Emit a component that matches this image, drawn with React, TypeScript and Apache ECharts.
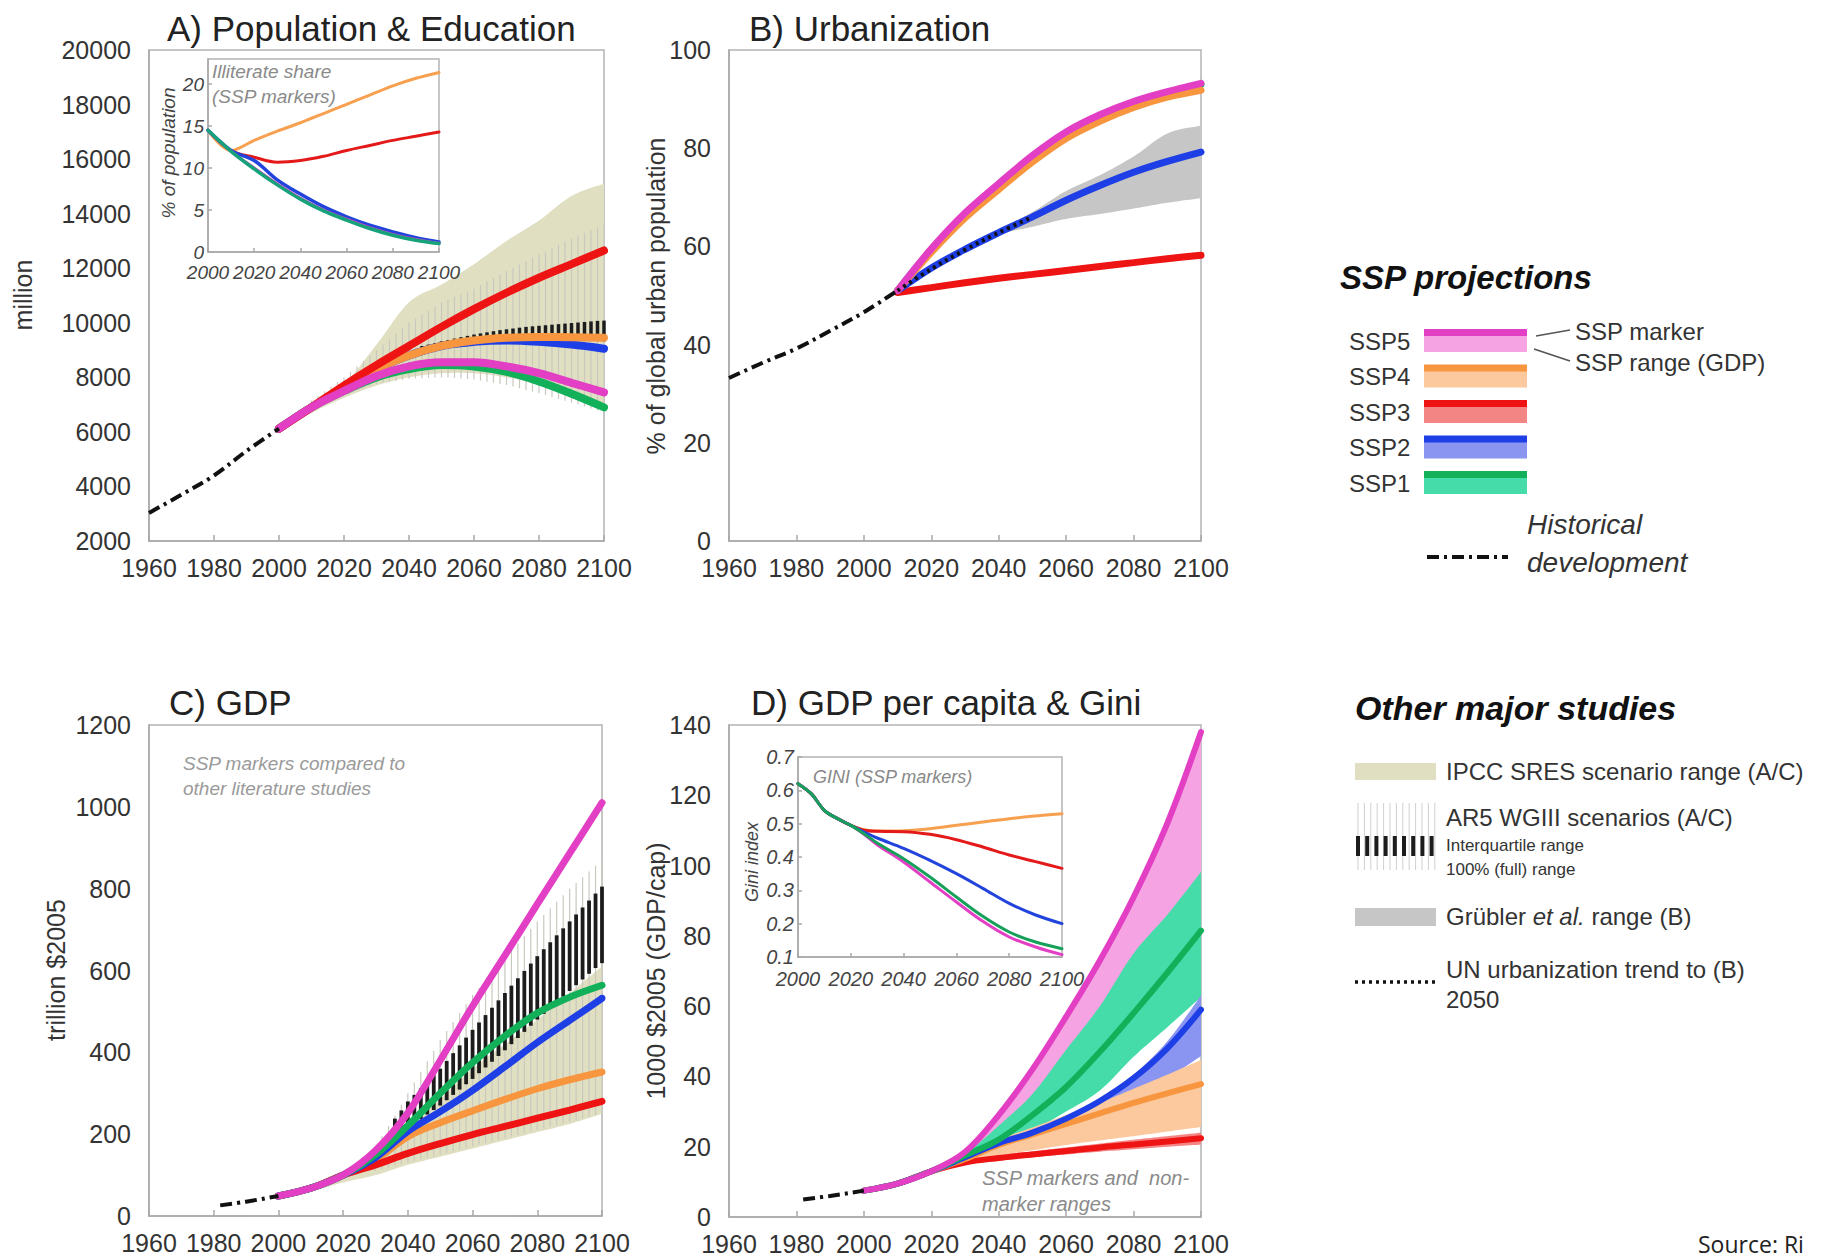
import React, { useEffect, useRef } from "react";
import * as echarts from "echarts";

const FONT = "'Liberation Sans', Arial, sans-serif";

// ---------- colours ----------
const C_SSP5 = "#e23fc4";
const C_SSP4 = "#f7963f";
const C_SSP3 = "#ee1414";
const C_SSP2 = "#1f3fe6";
const C_SSP1 = "#13b05a";
const R_SSP5 = "#f5a3e2";
const R_SSP4 = "#fcc89e";
const R_SSP3 = "#f48585";
const R_SSP2 = "#8a95f2";
const R_SSP1 = "#45dcaa";
const C_SRES = "#e0dfc2";
const C_GRUB = "#c6c6c6";
const C_AR5_FULL = "#c9c9bf";
const C_AR5_IQR = "#1c1c1c";

// ---------- Panel A: population (million) ----------
const HIST_POP_YEARS = [1960, 1970, 1980, 1990, 2000];
const HIST_POP = [3030, 3700, 4400, 5300, 6120];
const POP_YEARS = [2000, 2010, 2020, 2030, 2040, 2050, 2060, 2070, 2080, 2090, 2100];
const POP_SSP1 = [6120, 6900, 7500, 8000, 8300, 8450, 8400, 8200, 7850, 7400, 6900];
const POP_SSP2 = [6120, 6900, 7600, 8300, 8800, 9150, 9300, 9350, 9300, 9200, 9050];
const POP_SSP3 = [6120, 6900, 7700, 8450, 9150, 9850, 10500, 11100, 11650, 12150, 12650];
const POP_SSP4 = [6120, 6900, 7600, 8300, 8800, 9150, 9350, 9450, 9480, 9470, 9450];
const POP_SSP5 = [6120, 6900, 7500, 8050, 8400, 8550, 8550, 8400, 8150, 7800, 7450];
const POP_SRES_LO = [6100, 6700, 7250, 7700, 8000, 8150, 8150, 8000, 7750, 7400, 7000];
const POP_SRES_HI = [6200, 7000, 7750, 9200, 10750, 11400, 12150, 13000, 13750, 14650, 15100];
const AR5_POP_FULL_YEARS = [2004, 2006, 2008, 2010, 2012, 2014, 2016, 2018, 2020, 2022, 2024, 2026, 2028, 2030, 2032, 2034, 2036, 2038, 2040, 2042, 2044, 2046, 2048, 2050, 2052, 2054, 2056, 2058, 2060, 2062, 2064, 2066, 2068, 2070, 2072, 2074, 2076, 2078, 2080, 2082, 2084, 2086, 2088, 2090, 2092, 2094, 2096, 2098, 2100];
const AR5_POP_FULL_HI = [6550, 6750, 6950, 7150, 7320, 7490, 7660, 7830, 8000, 8200, 8400, 8600, 8800, 9000, 9200, 9400, 9600, 9800, 10000, 10150, 10300, 10450, 10600, 10750, 10850, 10950, 11050, 11150, 11250, 11380, 11510, 11640, 11770, 11900, 12020, 12140, 12260, 12380, 12500, 12620, 12740, 12860, 12980, 13100, 13200, 13300, 13400, 13500, 13600];
const AR5_POP_FULL_LO = [6350, 6500, 6650, 6800, 6920, 7040, 7160, 7280, 7400, 7470, 7540, 7610, 7680, 7750, 7790, 7830, 7870, 7910, 7950, 7960, 7970, 7980, 7990, 8000, 7990, 7980, 7960, 7940, 7920, 7880, 7840, 7800, 7760, 7720, 7660, 7600, 7540, 7480, 7420, 7350, 7280, 7210, 7140, 7070, 7000, 6930, 6860, 6790, 6720];
const AR5_POP_IQR_YEARS = [2044, 2046, 2048, 2050, 2052, 2054, 2056, 2058, 2060, 2062, 2064, 2066, 2068, 2070, 2072, 2074, 2076, 2078, 2080, 2082, 2084, 2086, 2088, 2090, 2092, 2094, 2096, 2098, 2100];
const AR5_POP_IQR_HI = [9150, 9200, 9260, 9320, 9370, 9420, 9470, 9520, 9570, 9610, 9650, 9690, 9730, 9760, 9790, 9820, 9850, 9870, 9890, 9910, 9930, 9950, 9970, 9990, 10010, 10030, 10050, 10070, 10080];
const AR5_POP_IQR_LO = [9050, 9090, 9140, 9180, 9220, 9260, 9300, 9330, 9360, 9380, 9400, 9410, 9420, 9430, 9430, 9430, 9430, 9420, 9420, 9410, 9400, 9390, 9380, 9370, 9360, 9350, 9340, 9330, 9320];

// ---------- Inset A: illiterate share (%) ----------
const ILL_YEARS = [2000, 2010, 2020, 2030, 2040, 2050, 2060, 2070, 2080, 2090, 2100];
const ILL_SSP4 = [14.5, 12.1, 13.3, 14.4, 15.4, 16.5, 17.6, 18.7, 19.8, 20.7, 21.4];
const ILL_SSP3 = [14.5, 12.1, 11.3, 10.7, 10.9, 11.4, 12.1, 12.7, 13.3, 13.8, 14.3];
const ILL_SSP2 = [14.5, 12.1, 10.9, 8.6, 6.9, 5.4, 4.2, 3.2, 2.4, 1.7, 1.2];
const ILL_SSP5 = [14.5, 12.0, 10.0, 8.1, 6.4, 5.0, 3.9, 2.9, 2.1, 1.5, 1.05];
const ILL_SSP1 = [14.5, 12.0, 9.9, 8.0, 6.3, 4.9, 3.8, 2.8, 2.0, 1.4, 1.0];

// ---------- Panel B: urbanization (%) ----------
const HIST_URB_YEARS = [1960, 1970, 1980, 1990, 2000, 2010];
const HIST_URB = [33.2, 36.3, 39.2, 42.8, 46.6, 51.0];
const URB_YEARS = [2010, 2020, 2030, 2040, 2050, 2060, 2070, 2080, 2090, 2100];
const URB_SSP5 = [51, 59.5, 66.8, 72.8, 78.5, 83.3, 86.8, 89.5, 91.5, 93.2];
const URB_SSP1 = [51, 59.3, 66.5, 72.5, 78.2, 83.0, 86.5, 89.2, 91.2, 93.0];
const URB_SSP4 = [51, 58.8, 65.8, 71.6, 77.2, 82.0, 85.5, 88.3, 90.4, 91.8];
const URB_SSP2 = [51, 55.6, 59.4, 62.8, 66.0, 69.4, 72.4, 75.1, 77.3, 79.2];
const URB_SSP3 = [50.6, 51.6, 52.6, 53.5, 54.3, 55.1, 55.9, 56.7, 57.5, 58.2];
const UN_YEARS = [2010, 2020, 2030, 2040, 2050];
const UN_URB = [51, 55.4, 59.3, 62.8, 66.0];
const GRUB_YEARS = [2030, 2040, 2050, 2060, 2070, 2080, 2090, 2100];
const GRUB_LO = [59.4, 62.4, 64.0, 65.6, 66.6, 67.7, 68.9, 69.8];
const GRUB_HI = [59.6, 63.4, 67.0, 71.3, 74.5, 78.3, 83.0, 84.6];

// ---------- Panel C: GDP (trillion $2005) ----------
const HIST_GDP_YEARS = [1982, 1990, 2000];
const HIST_GDP = [26, 35, 49];
const GDP_YEARS = [2000, 2010, 2020, 2030, 2040, 2050, 2060, 2070, 2080, 2090, 2100];
const GDP_SSP5 = [49, 68, 100, 160, 252, 380, 513, 637, 762, 886, 1010];
const GDP_SSP1 = [49, 68, 100, 150, 221, 300, 375, 440, 496, 535, 564];
const GDP_SSP2 = [49, 68, 100, 143, 207, 255, 307, 365, 424, 478, 532];
const GDP_SSP4 = [49, 68, 100, 138, 194, 228, 257, 285, 311, 333, 352];
const GDP_SSP3 = [49, 68, 100, 125, 153, 177, 199, 219, 239, 259, 280];
const GDP_SRES_LO = [45, 60, 82, 100, 125, 145, 165, 185, 205, 225, 250];
const GDP_SRES_HI = [52, 75, 110, 160, 215, 285, 360, 420, 480, 545, 610];
const AR5_GDP_FULL_YEARS = [2030, 2032, 2034, 2036, 2038, 2040, 2042, 2044, 2046, 2048, 2050, 2052, 2054, 2056, 2058, 2060, 2062, 2064, 2066, 2068, 2070, 2072, 2074, 2076, 2078, 2080, 2082, 2084, 2086, 2088, 2090, 2092, 2094, 2096, 2098, 2100];
const AR5_GDP_FULL_HI = [170, 195, 220, 245, 272, 300, 326, 352, 378, 404, 430, 452, 474, 496, 518, 540, 558, 576, 594, 612, 630, 648, 666, 684, 702, 720, 736, 752, 768, 784, 800, 814, 828, 842, 856, 870];
const AR5_GDP_FULL_LO = [110, 114, 118, 122, 126, 130, 134, 138, 142, 146, 150, 154, 158, 162, 166, 170, 174, 178, 182, 186, 190, 194, 198, 202, 206, 210, 214, 218, 222, 226, 230, 234, 238, 242, 246, 250];
const AR5_GDP_IQR_YEARS = [2036, 2038, 2040, 2042, 2044, 2046, 2048, 2050, 2052, 2054, 2056, 2058, 2060, 2062, 2064, 2066, 2068, 2070, 2072, 2074, 2076, 2078, 2080, 2082, 2084, 2086, 2088, 2090, 2092, 2094, 2096, 2098, 2100];
const AR5_GDP_IQR_HI = [238, 258, 280, 296, 312, 328, 344, 360, 379, 398, 417, 436, 455, 473, 491, 509, 527, 545, 563, 581, 599, 617, 635, 652, 669, 686, 703, 720, 737, 754, 771, 788, 805];
const AR5_GDP_IQR_LO = [192, 203, 215, 226, 237, 248, 259, 270, 283, 296, 309, 322, 335, 349, 363, 377, 391, 405, 420, 435, 450, 465, 480, 494, 508, 522, 536, 550, 564, 578, 592, 606, 618];

// ---------- Panel D: GDP per capita (1000 $2005) ----------
const HIST_GDPC_YEARS = [1982, 1990, 2000];
const HIST_GDPC = [5.0, 6.0, 7.5];
const GDPC_YEARS = [2000, 2010, 2020, 2030, 2040, 2050, 2060, 2070, 2080, 2090, 2100];
const GDPC_SSP5 = [7.5, 9.5, 13, 18.5, 29, 42, 57, 73, 91, 112, 138];
const GDPC_SSP1 = [7.5, 9.5, 13, 17.5, 22, 29, 37, 47, 58, 69.5, 81.5];
const GDPC_SSP2 = [7.5, 9.5, 13, 17, 21, 24, 28, 33, 39.5, 48, 59];
const GDPC_SSP4 = [7.5, 9.5, 13, 16.5, 20.5, 23.5, 26.5, 29.5, 32.5, 35.2, 37.8];
const GDPC_SSP3 = [7.5, 9.5, 13, 15.5, 16.8, 17.8, 18.8, 19.8, 20.6, 21.5, 22.4];
const GDPC_SSP5_LO = [7.5, 9.5, 13, 18, 25, 33, 42, 52, 63, 76, 90];
const GDPC_SSP5_HI = GDPC_SSP5;
const GDPC_SSP1_LO = [7.5, 9.5, 13, 17, 20, 24.5, 30, 36, 45.6, 54, 62.6];
const GDPC_SSP1_HI = [7.5, 9.5, 13, 18, 26, 35, 47.6, 60, 75, 86, 98.2];
const GDPC_SSP2_LO = [7.5, 9.5, 13, 16.8, 20.5, 23, 26, 29.5, 34, 39.5, 45.8];
const GDPC_SSP2_HI = [7.5, 9.5, 13, 17, 21, 24.2, 28.3, 33.5, 40.5, 50, 63];
const GDPC_SSP4_LO = [7.5, 9.5, 13, 15.5, 17.5, 19, 20.5, 21.8, 23, 24.3, 25.6];
const GDPC_SSP4_HI = [7.5, 9.5, 13, 17, 22, 25.5, 29, 32.5, 36.5, 40.5, 44.7];
const GDPC_SSP3_LO = [7.5, 9.5, 13, 15, 16, 17, 17.8, 18.6, 19.3, 20, 20.6];
const GDPC_SSP3_HI = [7.5, 9.5, 13, 16, 17.6, 18.7, 19.8, 20.9, 22, 23, 24];

// ---------- Inset D: Gini ----------
const GINI_YEARS = [2000, 2005, 2010, 2015, 2020, 2025, 2030, 2040, 2050, 2060, 2070, 2080, 2090, 2100];
const GINI_SSP4 = [0.62, 0.59, 0.54, 0.515, 0.495, 0.482, 0.478, 0.479, 0.485, 0.495, 0.505, 0.515, 0.523, 0.53];
const GINI_SSP3 = [0.62, 0.59, 0.54, 0.515, 0.495, 0.48, 0.477, 0.476, 0.468, 0.452, 0.43, 0.406, 0.386, 0.366];
const GINI_SSP2 = [0.62, 0.59, 0.54, 0.515, 0.495, 0.475, 0.457, 0.426, 0.39, 0.35, 0.306, 0.261, 0.226, 0.2];
const GINI_SSP5 = [0.62, 0.59, 0.54, 0.515, 0.495, 0.468, 0.437, 0.385, 0.325, 0.265, 0.207, 0.16, 0.13, 0.107];
const GINI_SSP1 = [0.62, 0.59, 0.54, 0.515, 0.495, 0.47, 0.442, 0.395, 0.34, 0.28, 0.222, 0.175, 0.145, 0.125];

// ---------- tick settings ----------
const YEAR_MIN = 1960, YEAR_MAX = 2100, YEAR_STEP = 20;
const INSET_YEAR_MIN = 2000;

const pairs = (xs: number[], ys: number[]) => xs.map((x, i) => [x, ys[i]]);

// Catmull-Rom smoothing of pixel points (drawing only)
function spline(p: number[][], steps = 10) {
  const out: number[][] = [];
  for (let i = 0; i < p.length - 1; i++) {
    const p0 = p[i - 1] || p[i], p1 = p[i], p2 = p[i + 1], p3 = p[i + 2] || p[i + 1];
    for (let s = 0; s < steps; s++) {
      const t = s / steps, t2 = t * t, t3 = t2 * t;
      out.push([0, 1].map((k) => 0.5 * (2 * p1[k] + (-p0[k] + p2[k]) * t + (2 * p0[k] - 5 * p1[k] + 4 * p2[k] - p3[k]) * t2 + (-p0[k] + 3 * p1[k] - 3 * p2[k] + p3[k]) * t3)));
    }
  }
  out.push(p[p.length - 1]);
  return out;
}

function line(gi: number, xs: number[], ys: number[], color: string, width: number, z: number, dash?: any, smooth = 0.35) {
  return {
    type: "line", xAxisIndex: gi, yAxisIndex: gi, data: pairs(xs, ys), symbol: "none", smooth,
    lineStyle: { color, width, type: dash || "solid", cap: dash ? "butt" : "round" },
    z, silent: true,
  };
}

function band(gi: number, xs: number[], lo: number[], hi: number[], color: string, z: number) {
  return {
    type: "custom", xAxisIndex: gi, yAxisIndex: gi, silent: true, z,
    data: xs.map((x, i) => [x, lo[i], hi[i]]),
    encode: { x: 0, y: [1, 2] },
    renderItem: (params: any, api: any) => {
      if (params.dataIndex !== 0) return null;
      const up = xs.map((x, i) => api.coord([x, hi[i]]));
      const dn = xs.map((x, i) => api.coord([x, lo[i]]));
      const pts = spline(up).concat(spline(dn).reverse());
      return { type: "polygon", shape: { points: pts }, style: { fill: color } };
    },
  };
}

function bars(gi: number, xs: number[], lo: number[], hi: number[], color: string, w: number, z: number) {
  return {
    type: "custom", xAxisIndex: gi, yAxisIndex: gi, silent: true, z,
    data: xs.map((x, i) => [x, lo[i], hi[i]]),
    encode: { x: 0, y: [1, 2] },
    renderItem: (params: any, api: any) => {
      const x = api.value(0);
      const a = api.coord([x, api.value(1)]);
      const b = api.coord([x, api.value(2)]);
      return { type: "rect", shape: { x: a[0] - w / 2, y: b[1], width: w, height: Math.max(1, a[1] - b[1]) }, style: { fill: color } };
    },
  };
}

const axisLineStyle = { color: "#a8a8a8", width: 1.5 };
const plain = (v: number) => String(v);

function mainX(gi: number) {
  return {
    type: "value", gridIndex: gi, min: YEAR_MIN, max: YEAR_MAX, interval: YEAR_STEP,
    axisLine: { show: true, onZero: false, lineStyle: axisLineStyle },
    axisTick: { show: true, inside: true, length: 6, lineStyle: axisLineStyle },
    axisLabel: { fontSize: 25, color: "#333", fontFamily: FONT, margin: 14, formatter: plain, showMinLabel: true, showMaxLabel: true },
    splitLine: { show: false },
  };
}
function mainY(gi: number, min: number, max: number, interval: number) {
  return {
    type: "value", gridIndex: gi, min, max, interval,
    axisLine: { show: true, onZero: false, lineStyle: axisLineStyle },
    axisTick: { show: false },
    axisLabel: { fontSize: 25, color: "#333", fontFamily: FONT, margin: 18, formatter: plain },
    splitLine: { show: false },
  };
}
function insetX(gi: number, size: number, margin: number) {
  return {
    type: "value", gridIndex: gi, min: INSET_YEAR_MIN, max: YEAR_MAX, interval: YEAR_STEP, z: 11,
    axisLine: { show: true, onZero: false, lineStyle: axisLineStyle },
    axisTick: { show: true, inside: true, length: 4, lineStyle: axisLineStyle },
    axisLabel: { fontSize: size, color: "#444", fontFamily: FONT, fontStyle: "italic", margin, formatter: plain, showMinLabel: true, showMaxLabel: true, hideOverlap: false },
    splitLine: { show: false },
  };
}
function insetY(gi: number, min: number, max: number, interval: number, size: number, fmt: any, showMax: boolean) {
  return {
    type: "value", gridIndex: gi, min, max, interval, z: 11,
    axisLine: { show: true, onZero: false, lineStyle: axisLineStyle },
    axisTick: { show: true, inside: true, length: 4, lineStyle: axisLineStyle },
    axisLabel: { fontSize: size, color: "#444", fontFamily: FONT, fontStyle: "italic", margin: 4, showMaxLabel: showMax, showMinLabel: true, formatter: fmt },
    splitLine: { show: false },
  };
}

function txt(text: string, x: number, y: number, o: any = {}) {
  return {
    type: "text", x, y, silent: true, z: 50, rotation: o.rot || 0,
    style: {
      text, fill: o.fill || "#333", fontSize: o.size || 24, fontFamily: o.family || FONT,
      fontStyle: o.style || "normal", fontWeight: o.weight || "normal",
      align: o.align || "left", verticalAlign: "middle",
      textAlign: o.align || "left", textVerticalAlign: "middle",
      rich: o.rich,
    },
  };
}
function rect(x: number, y: number, w: number, h: number, fill: string) {
  return { type: "rect", silent: true, z: 50, shape: { x, y, width: w, height: h }, style: { fill } };
}
function seg(x1: number, y1: number, x2: number, y2: number, stroke: string, lw: number, dash?: number[]) {
  return { type: "line", silent: true, z: 50, shape: { x1, y1, x2, y2 }, style: { stroke, lineWidth: lw, lineDash: dash } };
}

function buildGraphics() {
  const g: any[] = [];
  // titles
  g.push(txt("A) Population & Education", 167, 28, { size: 35, fill: "#222" }));
  g.push(txt("B) Urbanization", 749, 28, { size: 35, fill: "#222" }));
  g.push(txt("C) GDP", 169, 702, { size: 35, fill: "#222" }));
  g.push(txt("D) GDP per capita & Gini", 751, 702, { size: 35, fill: "#222" }));
  // axis names
  const R = Math.PI / 2;
  g.push(txt("million", 23, 295, { size: 25, rot: R, align: "center" }));
  g.push(txt("% of global urban population", 656, 296, { size: 25, rot: R, align: "center" }));
  g.push(txt("trillion $2005", 56, 970, { size: 25, rot: R, align: "center" }));
  g.push(txt("1000 $2005 (GDP/cap)", 656, 971, { size: 25, rot: R, align: "center" }));
  // inset labels
  g.push(txt("% of population", 168, 153, { size: 19, rot: R, align: "center", style: "italic", fill: "#444" }));
  g.push(txt("Gini index", 752, 862, { size: 18, rot: R, align: "center", style: "italic", fill: "#444" }));
  g.push(txt("Illiterate share", 212, 71, { size: 19, style: "italic", fill: "#8a8a8a" }));
  g.push(txt("(SSP markers)", 212, 96, { size: 19, style: "italic", fill: "#8a8a8a" }));
  g.push(txt("GINI (SSP markers)", 813, 777, { size: 18, style: "italic", fill: "#888" }));
  g.push(txt("SSP markers compared to", 183, 763, { size: 19, style: "italic", fill: "#9a9a9a" }));
  g.push(txt("other literature studies", 183, 788, { size: 19, style: "italic", fill: "#9a9a9a" }));
  g.push(txt("SSP markers and  non-", 982, 1178, { size: 20, style: "italic", fill: "#8a8a8a" }));
  g.push(txt("marker ranges", 982, 1204, { size: 20, style: "italic", fill: "#8a8a8a" }));

  // SSP legend
  g.push(txt("SSP projections", 1340, 277, { size: 33, style: "italic", weight: "bold", fill: "#111" }));
  const names = ["SSP5", "SSP4", "SSP3", "SSP2", "SSP1"];
  const marks = [C_SSP5, C_SSP4, C_SSP3, C_SSP2, C_SSP1];
  const ranges = [R_SSP5, R_SSP4, R_SSP3, R_SSP2, R_SSP1];
  const tops = [329, 364.5, 400, 435.5, 471];
  names.forEach((n, i) => {
    g.push(txt(n, 1349, tops[i] + 12, { size: 24 }));
    g.push(rect(1424, tops[i] + 6, 103, 17, ranges[i]));
    g.push(rect(1424, tops[i], 103, 7, marks[i]));
  });
  g.push(txt("SSP marker", 1575, 331, { size: 24 }));
  g.push(txt("SSP range (GDP)", 1575, 362, { size: 24 }));
  g.push(seg(1536, 336, 1570, 330, "#555", 1.5));
  g.push(seg(1534, 349, 1570, 361, "#555", 1.5));
  g.push(txt("Historical", 1527, 524, { size: 28, style: "italic" }));
  g.push(txt("development", 1527, 562, { size: 28, style: "italic" }));
  g.push(seg(1427, 557, 1508, 557, "#111", 4, [12, 5, 3, 5]));

  // Other studies legend
  g.push(txt("Other major studies", 1355, 708, { size: 34, style: "italic", weight: "bold", fill: "#111" }));
  g.push(rect(1355, 763, 81, 17, C_SRES));
  g.push(txt("IPCC SRES scenario range (A/C)", 1446, 771, { size: 24 }));
  for (let i = 0; i < 13; i++) g.push(seg(1358 + i * 6.4, 803, 1358 + i * 6.4, 870, "#cfcfcf", 1));
  for (let i = 0; i < 9; i++) g.push(rect(1356 + i * 9.2, 836, 4, 20, C_AR5_IQR));
  g.push(txt("AR5 WGIII scenarios (A/C)", 1446, 817, { size: 24 }));
  g.push(txt("Interquartile range", 1446, 845, { size: 17 }));
  g.push(txt("100% (full) range", 1446, 869, { size: 17 }));
  g.push(rect(1355, 908, 81, 18, C_GRUB));
  g.push(txt("Grübler {i|et al.} range (B)", 1446, 916, { size: 24, rich: { i: { fontStyle: "italic", fontSize: 24, fontFamily: FONT, fill: "#333" } } }));
  g.push(seg(1355, 982, 1436, 982, "#111", 3.5, [3, 4]));
  g.push(txt("UN urbanization trend to (B)", 1446, 969, { size: 24 }));
  g.push(txt("2050", 1446, 999, { size: 24 }));

  g.push(txt("Source: Ri", 1698, 1244, { size: 23, family: "'Open Sans', 'Noto Sans', sans-serif", fill: "#222" }));
  return g;
}

function buildOption() {
  const series: any[] = [];
  // Panel A (grid 0)
  series.push(band(0, POP_YEARS, POP_SRES_LO, POP_SRES_HI, C_SRES, 1));
  series.push(bars(0, AR5_POP_FULL_YEARS, AR5_POP_FULL_LO, AR5_POP_FULL_HI, C_AR5_FULL, 1.2, 2));
  series.push(bars(0, AR5_POP_IQR_YEARS, AR5_POP_IQR_LO, AR5_POP_IQR_HI, C_AR5_IQR, 3.5, 3));
  series.push(line(0, POP_YEARS, POP_SSP2, C_SSP2, 8, 4));
  series.push(line(0, POP_YEARS, POP_SSP4, C_SSP4, 8, 4));
  series.push(line(0, POP_YEARS, POP_SSP1, C_SSP1, 8, 4));
  series.push(line(0, POP_YEARS, POP_SSP3, C_SSP3, 8, 4));
  series.push(line(0, POP_YEARS, POP_SSP5, C_SSP5, 8, 4));
  series.push(line(0, HIST_POP_YEARS, HIST_POP, "#111", 4, 5, [12, 5, 3, 5]));

  // Panel B (grid 1)
  series.push(band(1, GRUB_YEARS, GRUB_LO, GRUB_HI, C_GRUB, 1));
  series.push(line(1, URB_YEARS, URB_SSP1, C_SSP1, 7, 4));
  series.push(line(1, URB_YEARS, URB_SSP3, C_SSP3, 7, 4));
  series.push(line(1, URB_YEARS, URB_SSP2, C_SSP2, 7, 4));
  series.push(line(1, URB_YEARS, URB_SSP4, C_SSP4, 7, 4));
  series.push(line(1, URB_YEARS, URB_SSP5, C_SSP5, 7, 4));
  series.push(line(1, UN_YEARS, UN_URB, "#111", 4, 5, [3, 4]));
  series.push(line(1, HIST_URB_YEARS, HIST_URB, "#111", 4, 5, [12, 5, 3, 5]));

  // Panel C (grid 2)
  series.push(band(2, GDP_YEARS, GDP_SRES_LO, GDP_SRES_HI, C_SRES, 1));
  series.push(bars(2, AR5_GDP_FULL_YEARS, AR5_GDP_FULL_LO, AR5_GDP_FULL_HI, C_AR5_FULL, 1.2, 2));
  series.push(bars(2, AR5_GDP_IQR_YEARS, AR5_GDP_IQR_LO, AR5_GDP_IQR_HI, C_AR5_IQR, 3.8, 3));
  series.push(line(2, GDP_YEARS, GDP_SSP4, C_SSP4, 7, 4));
  series.push(line(2, GDP_YEARS, GDP_SSP3, C_SSP3, 7, 4));
  series.push(line(2, GDP_YEARS, GDP_SSP2, C_SSP2, 7, 4));
  series.push(line(2, GDP_YEARS, GDP_SSP1, C_SSP1, 7, 4));
  series.push(line(2, GDP_YEARS, GDP_SSP5, C_SSP5, 7, 4));
  series.push(line(2, HIST_GDP_YEARS, HIST_GDP, "#111", 4, 5, [12, 5, 3, 5]));

  // Panel D (grid 3)
  series.push(band(3, GDPC_YEARS, GDPC_SSP5_LO, GDPC_SSP5_HI, R_SSP5, 1));
  series.push(band(3, GDPC_YEARS, GDPC_SSP1_LO, GDPC_SSP1_HI, R_SSP1, 1));
  series.push(band(3, GDPC_YEARS, GDPC_SSP2_LO, GDPC_SSP2_HI, R_SSP2, 1));
  series.push(band(3, GDPC_YEARS, GDPC_SSP4_LO, GDPC_SSP4_HI, R_SSP4, 1));
  series.push(band(3, GDPC_YEARS, GDPC_SSP3_LO, GDPC_SSP3_HI, R_SSP3, 1));
  series.push(line(3, GDPC_YEARS, GDPC_SSP3, C_SSP3, 6, 4));
  series.push(line(3, GDPC_YEARS, GDPC_SSP4, C_SSP4, 6, 4));
  series.push(line(3, GDPC_YEARS, GDPC_SSP2, C_SSP2, 6, 4));
  series.push(line(3, GDPC_YEARS, GDPC_SSP1, C_SSP1, 6, 4));
  series.push(line(3, GDPC_YEARS, GDPC_SSP5, C_SSP5, 6, 4));
  series.push(line(3, HIST_GDPC_YEARS, HIST_GDPC, "#111", 4, 5, [12, 5, 3, 5]));

  // Inset A (grid 4)
  series.push(line(4, ILL_YEARS, ILL_SSP4, "#f6a050", 3, 12));
  series.push(line(4, ILL_YEARS, ILL_SSP3, "#e41a1a", 3, 12));
  series.push(line(4, ILL_YEARS, ILL_SSP2, "#2244dd", 3.5, 12));
  series.push(line(4, ILL_YEARS, ILL_SSP5, C_SSP5, 3, 12));
  series.push(line(4, ILL_YEARS, ILL_SSP1, "#16a27a", 3.5, 12));

  // Inset D (grid 5)
  series.push(line(5, GINI_YEARS, GINI_SSP5, C_SSP5, 3, 12));
  series.push(line(5, GINI_YEARS, GINI_SSP4, "#f6a050", 3, 12));
  series.push(line(5, GINI_YEARS, GINI_SSP3, "#e41a1a", 3, 12));
  series.push(line(5, GINI_YEARS, GINI_SSP2, "#2244dd", 3, 12));
  series.push(line(5, GINI_YEARS, GINI_SSP1, "#16a05a", 3, 12));

  const gridBase = { show: true, borderColor: "#b4b4b4", borderWidth: 1.5, containLabel: false };
  return {
    animation: false,
    backgroundColor: "#ffffff",
    textStyle: { fontFamily: FONT },
    grid: [
      { ...gridBase, left: 149, top: 50, width: 455, height: 491, backgroundColor: "transparent", z: 0 },
      { ...gridBase, left: 729, top: 50, width: 472, height: 491, backgroundColor: "transparent", z: 0 },
      { ...gridBase, left: 149, top: 725, width: 453, height: 491, backgroundColor: "transparent", z: 0 },
      { ...gridBase, left: 729, top: 725, width: 472, height: 492, backgroundColor: "transparent", z: 0 },
      { ...gridBase, left: 208, top: 59, width: 231, height: 193, backgroundColor: "#ffffff", z: 10 },
      { ...gridBase, left: 798, top: 757, width: 264, height: 200, backgroundColor: "#ffffff", z: 10 },
    ],
    xAxis: [mainX(0), mainX(1), mainX(2), mainX(3), insetX(4, 19, 11), insetX(5, 20, 12)],
    yAxis: [
      mainY(0, 2000, 20000, 2000),
      mainY(1, 0, 100, 20),
      mainY(2, 0, 1200, 200),
      mainY(3, 0, 140, 20),
      insetY(4, 0, 23, 5, 19, plain, false),
      insetY(5, 0.1, 0.7, 0.1, 20, (v: number) => v.toFixed(1), true),
    ],
    series,
    graphic: { elements: buildGraphics() },
  };
}

export default function App() {
  const ref = useRef<HTMLDivElement>(null);
  useEffect(() => {
    if (!ref.current) return;
    const chart = echarts.init(ref.current, null, { renderer: "svg" });
    chart.setOption(buildOption() as any);
    return () => chart.dispose();
  }, []);
  return (
    <div
      ref={ref}
      style={{ position: "absolute", left: 0, top: 0, width: 1826, height: 1259, background: "#fff" }}
    />
  );
}
